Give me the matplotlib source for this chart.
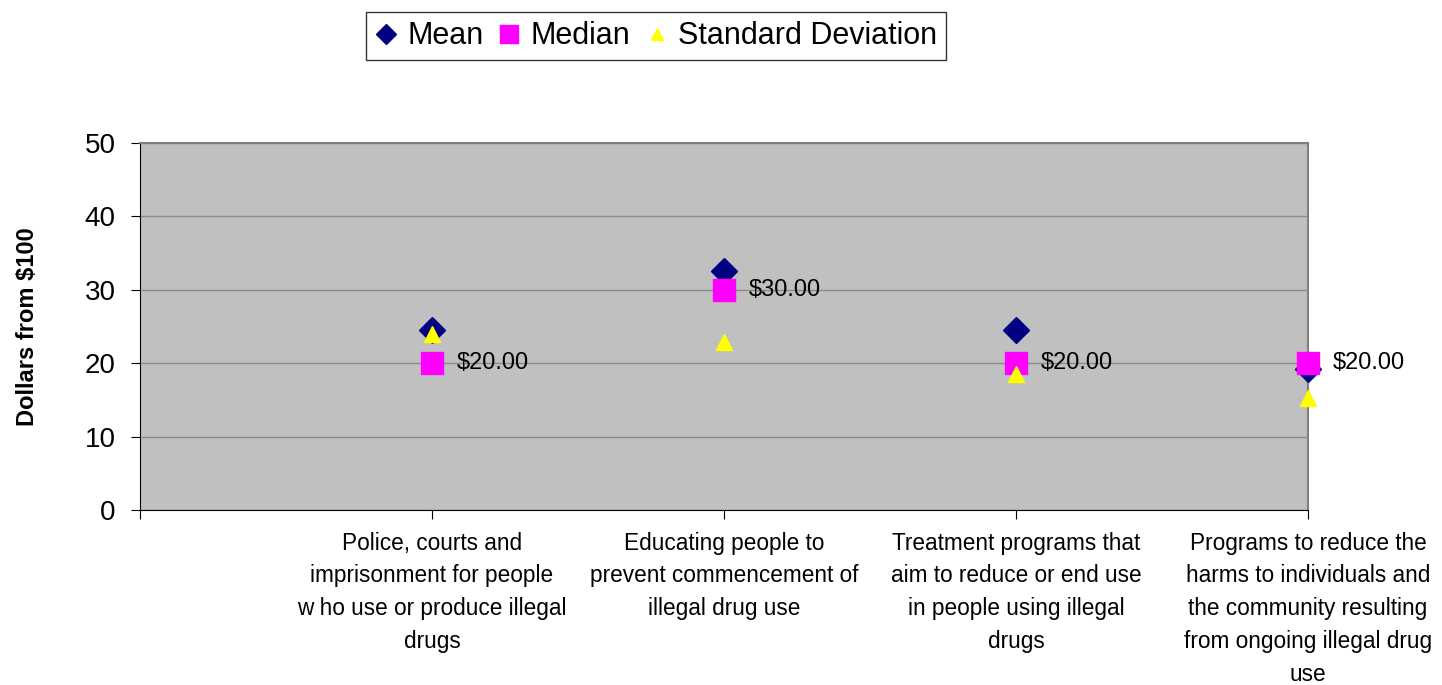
import matplotlib.pyplot as plt
import numpy as np

plt.rcParams["font.family"] = ["Liberation Sans", "DejaVu Sans"]

categories = [
    "Police, courts and\nimprisonment for people\nw ho use or produce illegal\ndrugs",
    "Educating people to\nprevent commencement of\nillegal drug use",
    "Treatment programs that\naim to reduce or end use\nin people using illegal\ndrugs",
    "Programs to reduce the\nharms to individuals and\nthe community resulting\nfrom ongoing illegal drug\nuse",
]
mean = [24.5, 32.6, 24.5, 19.2]
median = [20, 30, 20, 20]
std_dev = [24.0, 22.9, 18.5, 15.3]
y_ticks = [0, 10, 20, 30, 40, 50]

x = np.arange(1, len(categories) + 1)

fig = plt.figure(figsize=(14.42, 6.85), dpi=100)
ax = fig.add_axes([0.0971, 0.2555, 0.81, 0.5358])
ax.set_facecolor("#C0C0C0")

h1, = ax.plot(x, mean, "D", color="#000080", markersize=13, linestyle="none",
              label="Mean", clip_on=False, zorder=3)
h2, = ax.plot(x, median, "s", color="#FF00FF", markersize=16, linestyle="none",
              label="Median", clip_on=False, zorder=4)
h3, = ax.plot(x, std_dev, "^", color="#FFFF00", markersize=11, linestyle="none",
              label="Standard Deviation", clip_on=False, zorder=5)

for xi, m in zip(x, median):
    ax.annotate(f"${m:.2f}", (xi, m), xytext=(18, 0), textcoords="offset points",
                va="center", ha="left", fontsize=17, annotation_clip=False)

ax.set_xlim(0, len(categories))
ax.set_ylim(0, 50)
ax.set_yticks(y_ticks)
ax.tick_params(axis="y", labelsize=20, direction="out", length=6.5, pad=11)
ax.set_xticks(np.arange(0, len(categories) + 1))
ax.set_xticklabels([""] + categories, fontsize=16.3, linespacing=1.55)
ax.tick_params(axis="x", direction="out", length=6.5, pad=9)

ax.grid(axis="y", color="#8C8C8C", linewidth=1)
ax.set_axisbelow(True)
for side in ["top", "right"]:
    ax.spines[side].set_color("#808080")
    ax.spines[side].set_linewidth(1.5)
ax.spines["left"].set_color("black")
ax.spines["bottom"].set_color("black")

ax.set_ylabel("Dollars from $100", fontsize=17, fontweight="bold", labelpad=33)

leg = fig.legend(handles=[h1, h2, h3], loc="center", bbox_to_anchor=(0.455, 0.947), ncol=3,
                 fontsize=22, frameon=True, fancybox=False, edgecolor="black",
                 handlelength=0.7, handletextpad=0.35, columnspacing=0.5, borderpad=0.3,
                 markerscale=0.8)
leg.get_frame().set_linewidth(1)

fig.savefig("out.png", dpi=100)
